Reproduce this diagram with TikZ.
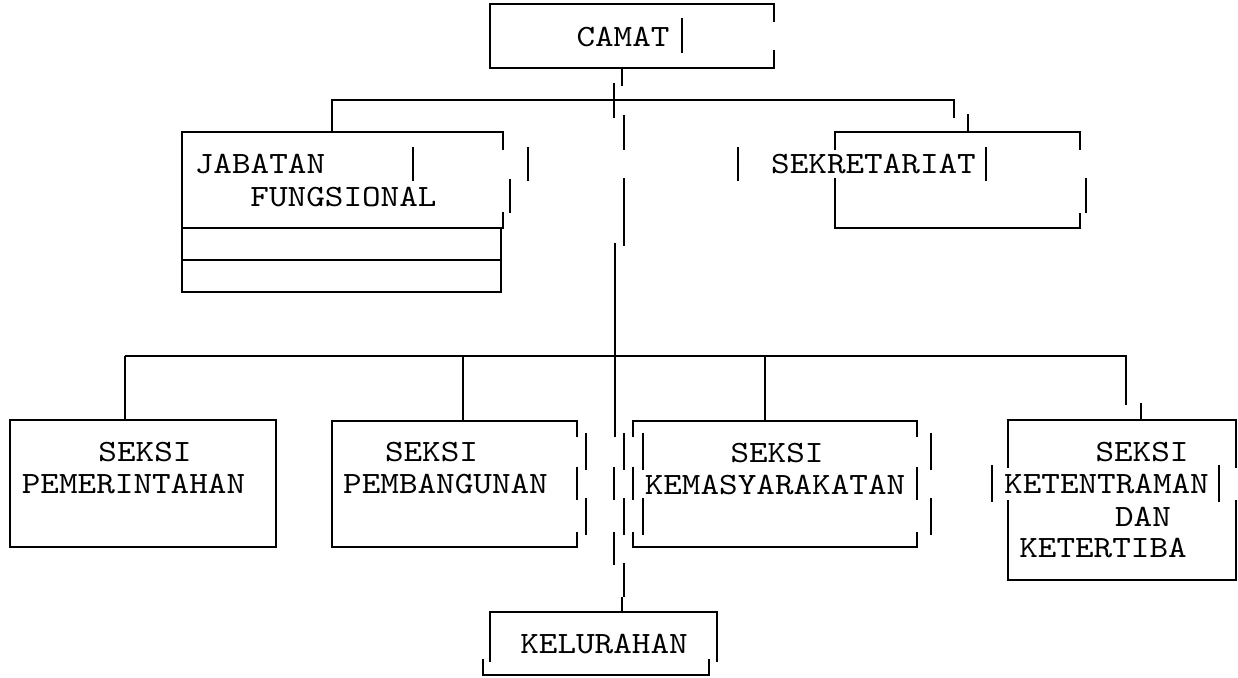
\documentclass[tikz,border=0pt]{standalone}
\usepackage{fontspec}
\newfontfamily\chartfont[FakeStretch=1.143]{lmmono10-regular.otf}
\usetikzlibrary{calc}
\tikzstyle{frame} = [rectangle, inner sep=0pt, draw=none]
\tikzstyle{txt} = [inner sep=0pt, font=\chartfont\fontsize{31}{36}\selectfont]
\tikzstyle{rule} = [line width=2.2pt]

\begin{document}
\begin{tikzpicture}[x=1pt, y=-1pt]
    \path[fill=white] (0,0) rectangle (1238,677);
    \useasboundingbox (0,0) rectangle (1238,677);

    % frames of the boxes
    \node (cam) [frame, minimum width=284pt, minimum height=64pt] at (632,36) {};
    \node (jab) [frame, minimum width=321pt, minimum height=96pt] at (342.5,180) {};
    \node (jabrows) [frame, minimum width=319pt, minimum height=64pt] at (341.5,260) {};
    \node (sek) [frame, minimum width=245pt, minimum height=96pt] at (957.5,180) {};
    \node (pem) [frame, minimum width=266pt, minimum height=127pt] at (143,483.5) {};
    \node (pbg) [frame, minimum width=245pt, minimum height=126pt] at (454.5,484) {};
    \node (kms) [frame, minimum width=284pt, minimum height=126pt] at (775,484) {};
    \node (ket) [frame, minimum width=228pt, minimum height=160pt] at (1122,500) {};
    \node (kel) [frame, minimum width=227pt, minimum height=63pt] at (603.5,643.5) {};

    % texts
    \node (camat) [txt] at (623,37) {CAMAT};
    \node (jab1) [txt] at (260,164) {JABATAN};
    \node (jab2) [txt] at (343.5,197) {FUNGSIONAL};
    \node (sek1) [txt] at (873.5,164) {SEKRETARIAT};
    \node (pem1) [txt] at (145,452) {SEKSI};
    \node (pem2) [txt] at (133.5,484) {PEMERINTAHAN};
    \node (pbg1) [txt] at (431.5,452) {SEKSI};
    \node (pbg2) [txt] at (445.5,484) {PEMBANGUNAN};
    \node (kms1) [txt] at (777,453) {SEKSI};
    \node (kms2) [txt] at (775,485) {KEMASYARAKATAN};
    \node (ket1) [txt] at (1142,452) {SEKSI};
    \node (ket2) [txt] at (1106.5,484) {KETENTRAMAN};
    \node (ket3) [txt] at (1143,517) {DAN};
    \node (ket4) [txt] at (1103,548) {KETERTIBA};
    \node (kel1) [txt] at (604,644) {KELURAHAN};

    % outlines, broken where the picture breaks them
    \draw [rule] ($(cam.north east)+(0,18)$) |- (cam.north west) |- (cam.south east) -- ++(0,-18);
    \draw [rule] ($(jab.north east)+(0,18)$) |- (jab.north west) |- (jab.south east) -- ++(0,-16);
    \draw [rule] (jabrows.north west) rectangle (jabrows.south east);
    \draw [rule] (jabrows.west) -- (jabrows.east);
    \draw [rule] ($(sek.north west)+(0,18)$) |- (sek.north east) -- ++(0,18);
    \draw [rule] ($(sek.north west)+(0,46)$) |- (sek.south east) -- ++(0,-15);
    \draw [rule] ($(sek.south east)+(6,-15)$) -- ++(0,-35);
    \draw [rule] (pem.north west) rectangle (pem.south east);
    \draw [rule] ($(pbg.north east)+(0,16)$) |- (pbg.north west) |- (pbg.south east) -- ++(0,-15);
    \draw [rule] ($(pbg.east)+(0,-17)$) -- ++(0,33);
    \draw [rule] ($(kms.north west)+(0,16)$) |- (kms.north east) -- ++(0,16);
    \draw [rule] ($(kms.south west)+(0,-15)$) |- (kms.south east) -- ++(0,-15);
    \draw [rule] ($(kms.west)+(0,-17)$) -- ++(0,33);
    \draw [rule] ($(kms.east)+(0,-17)$) -- ++(0,33);
    \draw [rule] ($(ket.north west)+(0,48)$) |- (ket.north east) -- ++(0,48);
    \draw [rule] ($(ket.south west)+(0,-80)$) |- (ket.south east) -- ++(0,-80);
    \draw [rule] ($(kel.south west)+(0,-13)$) |- (kel.north east) -- ++(0,50);
    \draw [rule] ($(kel.south west)+(-7,-16)$) |- ($(kel.south east)+(-8,0)$) -- ++(0,-16);

    % stray bars
    \foreach \x/\ya/\yb in {682/18/53, 413/147/181, 528/147/181, 510/179/213, 738/147/181, 986/147/181,
        586/433/470, 586/498/535, 643/433/470, 643/498/535, 931/433/470, 931/498/535, 992/465/502, 1219/465/502}
        \draw [rule] (\x,\ya) -- (\x,\yb);

    % trunk from CAMAT down to KELURAHAN
    \foreach \x/\ya/\yb in {622/68/86, 614/83/118, 624/115/150, 624/178/246, 615/243/437, 614/467/500, 614/532/565,
        624/433/470, 624/498/535, 624/563/597, 622/597/612}
        \draw [rule] (\x,\ya) -- (\x,\yb);

    % upper bus
    \coordinate (b1) at (332,100);
    \coordinate (b2) at (954,100);
    \coordinate (s1) at (968,114);
    \draw [rule] (b1 |- jab.north) -- (b1) -- (b2) -- ++(0,18);
    \draw [rule] (s1) -- (s1 |- sek.north);

    % lower bus
    \coordinate (c1) at (125,356);
    \coordinate (c2) at (463,356);
    \coordinate (c3) at (765,356);
    \coordinate (c4) at (1126,356);
    \coordinate (c5) at (1141,403);
    \draw [rule] (c1) -- (c4) -- ++(0,49);
    \draw [rule] (c1) -- (c1 |- pem.north);
    \draw [rule] (c2) -- (c2 |- pbg.north);
    \draw [rule] (c3) -- (c3 |- kms.north);
    \draw [rule] (c5) -- (c5 |- ket.north);
\end{tikzpicture}
\end{document}
